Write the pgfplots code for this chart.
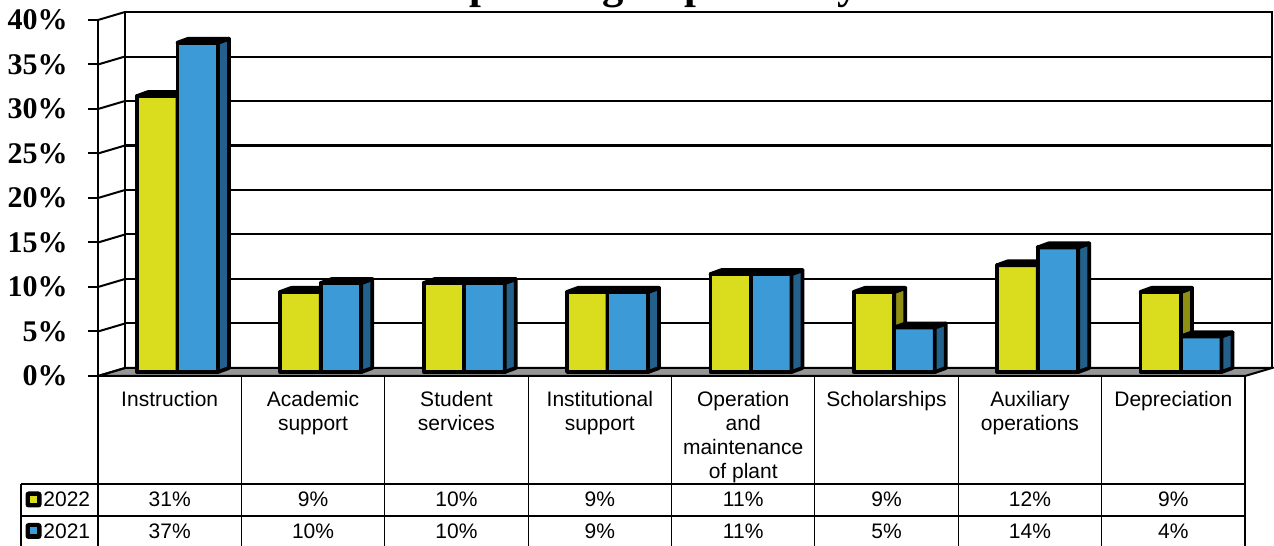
\documentclass[border=0pt]{standalone}
\usepackage{pgfplots}
\pgfplotsset{compat=1.18}
\usepackage{pgfplotstable}
\usepackage{fontspec}
\setmainfont{Liberation Sans}
\newfontfamily\tnr{Liberation Serif}

\definecolor{yF}{HTML}{DADC1E}
\definecolor{yS}{HTML}{8F8F12}
\definecolor{bF}{HTML}{3C9BD7}
\definecolor{bS}{HTML}{23618C}
\definecolor{floorgray}{HTML}{969696}

\pgfplotstableread{
x y22 y21
0 31 37
1 9 10
2 10 10
3 9 9
4 11 11
5 9 5
6 12 14
7 9 4
}\datatable

% side + top faces of a 3D column, drawn at the top centre of the category
% #1 left edge, #2 right edge of the front face (relative to category centre)
\newcommand\sidetop[3]{%
  \pgfpathmoveto{\pgfpoint{#2}{0pt}}%
  \pgfpathlineto{\pgfpoint{#2+5.5pt}{2pt}}%
  \pgfpathlineto{\pgfpoint{#2+5.5pt}{2pt-4.45pt*\barh}}%
  \pgfpathlineto{\pgfpoint{#2}{-4.45pt*\barh}}%
  \pgfpathclose
  \pgfsetfillcolor{#3}%
  \pgfusepathqfillstroke
  \pgfpathmoveto{\pgfpoint{#1}{0pt}}%
  \pgfpathlineto{\pgfpoint{#1+5.5pt}{2pt}}%
  \pgfpathlineto{\pgfpoint{#2+5.5pt}{2pt}}%
  \pgfpathlineto{\pgfpoint{#2}{0pt}}%
  \pgfpathclose
  \pgfusepathqfillstroke
}
\pgfdeclareplotmark{barY}{\sidetop{-16.375pt}{3.875pt}{yS}}
\pgfdeclareplotmark{barB}{\sidetop{3.875pt}{24.125pt}{bS}}

\pgfplotsset{baraxis/.style={at={(49pt,87pt)}, anchor=south west, scale only axis,
  width=573.5pt, height=178pt, xmin=-0.5, xmax=7.5, ymin=0, ymax=40,
  clip=false, hide axis}}

\begin{document}
\begin{tikzpicture}
% title (only its descenders fall inside the page, as in the reference)
\node[anchor=base west, inner sep=0pt, font=\tnr\bfseries\fontsize{21.35}{24}\selectfont] at (218pt,273.5pt) {Operating Expenses by Function};

% back wall
\begin{axis}[at={(62.5pt,89pt)}, anchor=south west, scale only axis,
  width=573.5pt, height=178pt, xmin=-0.5, xmax=7.5, ymin=0, ymax=40,
  xtick=\empty, ytick={0,5,...,40}, yticklabels={}, major tick length=0pt,
  ymajorgrids, grid style={black, line width=1pt},
  axis line style={black, line width=1pt}]
\end{axis}

% front plane: floor, left wall, y axis and the table
\begin{axis}[at={(49pt,85pt)}, anchor=south west, scale only axis,
  width=573.5pt, height=178pt, xmin=-0.5, xmax=7.5, ymin=0, ymax=40,
  clip=false, axis x line*=bottom, axis y line*=left,
  axis line style={black, line width=1pt},
  xtick={0,...,7},
  xticklabels={Instruction,{Academic\\support},{Student\\services},{Institutional\\support},{Operation\\and\\maintenance\\of plant},Scholarships,{Auxiliary\\operations},Depreciation},
  xtick style={draw=none},
  xticklabel style={align=center, anchor=north, inner sep=0pt, font=\fontsize{10.5}{12}\selectfont, yshift=-7.5pt},
  ytick={0,5,...,40},
  yticklabels={0\%,5\%,10\%,15\%,20\%,25\%,30\%,35\%,40\%},
  ytick style={black, line width=1pt}, ytick align=outside, major tick length=5pt,
  yticklabel style={font=\tnr\bfseries\fontsize{15}{18}\selectfont, anchor=east, inner sep=0pt, xshift=-10pt}]
\filldraw[fill=floorgray, draw=black, line width=1pt] (axis cs:-0.5,0) -- (axis cs:7.5,0) -- ++(13.5pt,4pt) -- ([shift={(13.5pt,4pt)}]axis cs:-0.5,0) -- cycle;
\pgfplotsinvokeforeach{0,5,...,40}{\draw[black, line width=1pt] (axis cs:-0.5,#1) -- ++(13.5pt,4pt);}
\addplot[draw=none, mark=none, point meta=explicit,
  /pgf/number format/assume math mode=true,
  nodes near coords={\pgfmathprintnumber{\pgfplotspointmeta}\%},
  every node near coord/.append style={anchor=center, inner sep=0pt, font=\fontsize{10.5}{12}\selectfont}]
  table[x=x, y expr=-13.876, meta=y22] {\datatable};
\addplot[draw=none, mark=none, point meta=explicit,
  /pgf/number format/assume math mode=true,
  nodes near coords={\pgfmathprintnumber{\pgfplotspointmeta}\%},
  every node near coord/.append style={anchor=center, inner sep=0pt, font=\fontsize{10.5}{12}\selectfont}]
  table[x=x, y expr=-17.416, meta=y21] {\datatable};
\end{axis}

% 2022 columns
\begin{axis}[baraxis]
\addplot[scatter, only marks, mark=barY,
  scatter/use mapped color={draw=black, fill=yS},
  mark options={line width=1.9pt, line join=round},
  visualization depends on={\thisrow{y22} \as \barh}]
  table[x=x, y=y22] {\datatable};
\addplot[ybar, bar shift=-6.25pt, bar width=20.25pt, fill=yF, draw=black, line width=1.9pt, line join=round]
  table[x=x, y=y22] {\datatable};
\end{axis}
% 2021 columns
\begin{axis}[baraxis]
\addplot[scatter, only marks, mark=barB,
  scatter/use mapped color={draw=black, fill=bS},
  mark options={line width=1.9pt, line join=round},
  visualization depends on={\thisrow{y21} \as \barh}]
  table[x=x, y=y21] {\datatable};
\addplot[ybar, bar shift=14pt, bar width=20.25pt, fill=bF, draw=black, line width=1.9pt, line join=round]
  table[x=x, y=y21] {\datatable};
\end{axis}

% table grid
\begin{scope}[line width=0.6pt, black]
\foreach \k in {0,...,8} {\draw (49pt+71.6875pt*\k,85pt) -- (49pt+71.6875pt*\k,0pt);}
\draw (10.5pt,31pt) -- (622.5pt,31pt);
\draw (10.5pt,15pt) -- (622.5pt,15pt);
\draw (10.5pt,31pt) -- (10.5pt,0pt);
\end{scope}
% legend keys
\fill[black, rounded corners=1.5pt] (12.75pt,19.25pt) rectangle ++(8pt,8pt);
\fill[yF] (15pt,21.5pt) rectangle ++(3.5pt,3.5pt);
\fill[black, rounded corners=1.5pt] (12.75pt,3.5pt) rectangle ++(8pt,8pt);
\fill[bF] (15pt,5.75pt) rectangle ++(3.5pt,3.5pt);
\node[anchor=west, inner sep=0pt, font=\fontsize{10.5}{12}\selectfont] at (21.5pt,23.25pt) {2022};
\node[anchor=west, inner sep=0pt, font=\fontsize{10.5}{12}\selectfont] at (21.5pt,7.5pt) {2021};

\pgfresetboundingbox
\useasboundingbox (0pt,0pt) rectangle (637pt,273pt);
\end{tikzpicture}
\end{document}
